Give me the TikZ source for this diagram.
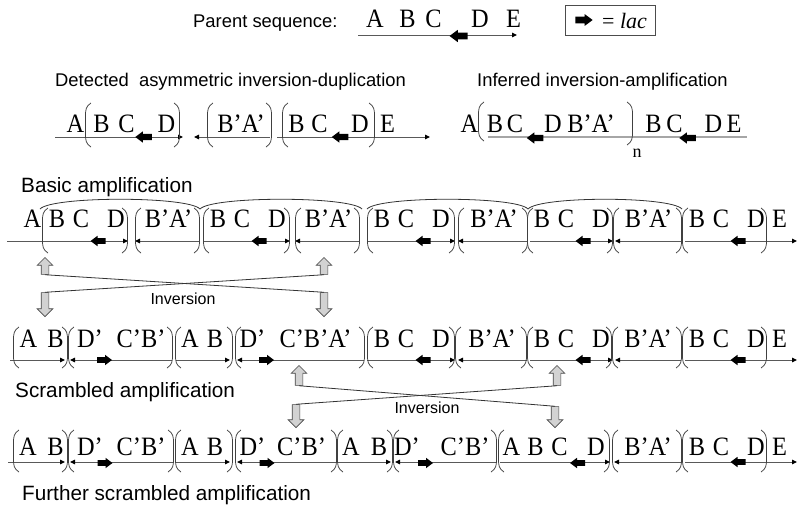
\documentclass[tikz,border=0pt]{standalone}
\usepackage{fontspec}
\usepackage{graphicx}
\setmainfont{Liberation Serif}
\setsansfont{Liberation Sans}
\usetikzlibrary{arrows.meta,shapes.arrows}

\newcounter{tk}
\def\RB{0}\def\RL{0}\def\BT{0}\def\BB{0}
\newcommand\lt[2]{\stepcounter{tk}\node[seqlet] (t\thetk) at ({#1},{\RB}) {\scalebox{0.92}[1]{#2}};}
\newcommand\lbr[1]{\draw[brk] ({#1+6},{\BT}) .. controls ({#1+1},{\BT+3}) and ({#1+0.5},{\BT+7}) .. ({#1+0.5},{\BT+12}) -- ({#1+0.5},{\BB-12}) .. controls ({#1+0.5},{\BB-7}) and ({#1+1},{\BB-3}) .. ({#1+6},{\BB});}
\newcommand\rbr[1]{\draw[brk] ({#1-6},{\BT}) .. controls ({#1-1},{\BT+3}) and ({#1-0.5},{\BT+7}) .. ({#1-0.5},{\BT+12}) -- ({#1-0.5},{\BB-12}) .. controls ({#1-0.5},{\BB-7}) and ({#1-1},{\BB-3}) .. ({#1-6},{\BB});}
\newcommand\lac[4]{\fill[black,shift={({#1},{#2})},xscale={#3*#4},yscale={#4}] (-7.5,0) -- (-0.5,5.2) -- (-0.5,2.9) -- (7.5,2.9) -- (7.5,-2.9) -- (-0.5,-2.9) -- (-0.5,-5.2) -- cycle;}
\newcommand\BCD[2]{\lbr{#1}\lt{#1+15}{B}\lt{#1+39}{C}\lac{#1+56}{\RL}{1}{1}\lt{#1+74}{D}\rbr{#2}}
\newcommand\BA[2]{\lbr{#1}\lt{(#1+#2)/2+1}{B’A’}\rbr{#2}}

\begin{document}
\begin{tikzpicture}[x=1pt,y=-1pt,
  seqlet/.style={font=\fontsize{26.5}{26.5}\selectfont, anchor=base, inner sep=0pt},
  lab/.style={font=\sffamily\fontsize{18.4}{20}\selectfont, inner sep=0pt, anchor=base west},
  rowlab/.style={font=\sffamily\fontsize{20.7}{22}\selectfont, inner sep=0pt, anchor=base west},
  invlab/.style={font=\sffamily\fontsize{16}{18}\selectfont, inner sep=0pt},
  brk/.style={draw=black!75, line width=0.75pt},
  seg/.style={draw=black!65, line width=1pt},
  fwd/.style={seg, -{Triangle[length=5pt,width=4.5pt,color=black]}},
  rev/.style={seg, {Triangle[length=5pt,width=4.5pt,color=black]}-},
  arcst/.style={draw=black!80, line width=0.8pt},
  garrow/.style={single arrow, draw=gray!55!black, fill=gray!35, line width=0.6pt,
    inner xsep=3.5pt, inner ysep=3.5pt, single arrow head extend=4pt, single arrow tip angle=90},
  xline/.style={draw=gray!40!black, line width=0.8pt}]
\useasboundingbox (0,0) rectangle (798,504);

% ---------- header
\node[lab] (ps) at (193,27) {Parent sequence:};
\def\RB{27}
\draw[fwd] (358,35) -- (517,35);
\lt{375}{A}\lt{407.5}{B}\lt{433.5}{C}\lt{480}{D}\lt{513.5}{E}
\lac{458.5}{36}{1}{1.2}
\node[draw=black!70, line width=0.6pt, minimum width=90pt, minimum height=30pt, anchor=north west, inner sep=0pt] (key) at (565,5) {};
\lac{584}{20}{-1}{1.15}
\node[anchor=base west, font=\fontsize{22}{22}\selectfont, inner sep=0pt] (keyt) at (602,28) {= \textit{lac}};

% ---------- row 2
\node[lab] (l2a) at (55,86) {Detected\ \ asymmetric inversion-duplication};
\node[lab] (l2b) at (477,86) {Inferred inversion-amplification};
\def\RB{132}\def\RL{137}\def\BT{103}\def\BB{147}
\draw[fwd] (55,137) -- (183,137);
\draw[rev] (194,137) -- (270,137);
\draw[fwd] (277,137) -- (430,137);
\lt{75.5}{A}\lbr{85}\lt{101.5}{B}\lt{126.5}{C}\lac{143.5}{137}{1}{1.1}\lt{166.5}{D}\rbr{180}
\lbr{207}\lt{241}{B’A’}\rbr{272}
\lbr{282}\lt{296.5}{B}\lt{319.5}{C}\lac{340}{137}{1}{1.1}\lt{360}{D}\rbr{375}\lt{387.5}{E}
% right
\draw[seg, draw=gray!70, line width=1.6pt] (488,137) -- (747,137);
\def\BT{102}\def\BB{141}
\lt{469.5}{A}\lbr{478}\lt{495}{B}\lt{515}{C}\lac{535}{138}{1}{1.1}\lt{553}{D}\lt{591}{B’A’}
\def\BB{145}\rbr{633}
\node[font=\fontsize{18}{18}\selectfont, anchor=base, inner sep=0pt] (nsub) at (637,157) {n};
\lt{653.5}{B}\lt{674.5}{C}\lac{687.5}{138}{1}{1.1}\lt{713.5}{D}\lt{734}{E}

% ---------- row 3
\node[rowlab] (l3) at (21,192) {Basic amplification};
\foreach \a/\b in {40/200,200/362,367/528,528/682}
  \draw[arcst] (\a,209) .. controls ({\a+12},196) and ({\b-12},196) .. (\b,209);
\def\RB{227}\def\RL{241}\def\BT{208}\def\BB{253}
\draw[fwd] (7,241) -- (128,241);
\draw[rev] (135,241) -- (200,241);
\draw[fwd] (203,241) -- (290,241);
\draw[rev] (295,241) -- (360,241);
\draw[fwd] (367,241) -- (455,241);
\draw[rev] (458,241) -- (527,241);
\draw[fwd] (530,241) -- (613,241);
\draw[rev] (615,241) -- (681,241);
\draw[fwd] (685,241) -- (797,241);
\lt{32.5}{A}\BCD{42}{128}\BA{135}{200}\BCD{203}{290}\BA{295}{360}\BCD{367}{455}\BA{458}{528}\BCD{527}{613}\BA{613}{682}\BCD{682}{767}\lt{779.5}{E}

% ---------- inversion 1
\node[garrow, shape border rotate=90, minimum height=17pt, anchor=tip] (u1) at (45,257) {};
\node[garrow, shape border rotate=90, minimum height=17pt, anchor=tip] (u2) at (324,257) {};
\node[garrow, shape border rotate=270, minimum height=24pt, anchor=tip] (d1) at (45,317) {};
\node[garrow, shape border rotate=270, minimum height=24pt, anchor=tip] (d2) at (324,317) {};
\draw[xline] (u1.tail) -- (d2.tail);
\draw[xline] (u2.tail) -- (d1.tail);
\node[invlab] (inv1) at (183,299) {Inversion};

% ---------- row 4
\def\RB{347}\def\RL{360}\def\BT{327}\def\BB{368}
\draw[fwd] (10,360) -- (65,360);
\draw[rev] (70,360) -- (172,360);
\draw[fwd] (176,360) -- (230,360);
\draw[rev] (237,360) -- (364,360);
\draw[fwd] (367,360) -- (455,360);
\draw[rev] (458,360) -- (527,360);
\draw[fwd] (530,360) -- (613,360);
\draw[rev] (615,360) -- (681,360);
\draw[fwd] (685,360) -- (797,360);
\lbr{13}\lt{28.5}{A}\lt{55.5}{B}\rbr{68}
\lbr{68}\lt{90}{D’}\lac{104.5}{360}{-1}{1}\lt{141}{C’B’}\rbr{173}
\lbr{175}\lt{190}{A}\lt{215}{B}\rbr{233}
\lbr{235}\lt{252.5}{D’}\lac{266.5}{360}{-1}{1}\lt{315.5}{C’B’A’}\rbr{365}
\BCD{367}{455}\BA{455}{527}\BCD{527}{612}\BA{612}{682}\BCD{682}{767}\lt{779.5}{E}
\node[rowlab] (l4) at (15,397) {Scrambled amplification};

% ---------- inversion 2
\node[garrow, shape border rotate=90, minimum height=20pt, anchor=tip] (u3) at (299,365) {};
\node[garrow, shape border rotate=90, minimum height=20pt, anchor=tip] (u4) at (557,365) {};
\node[garrow, shape border rotate=270, minimum height=23pt, anchor=tip] (d3) at (296,428) {};
\node[garrow, shape border rotate=270, minimum height=21pt, anchor=tip] (d4) at (555,428) {};
\draw[xline] (u3.tail) -- (d4.tail);
\draw[xline] (u4.tail) -- (d3.tail);
\node[invlab] (inv2) at (427,408) {Inversion};

% ---------- row 5
\def\RB{455}\def\RL{462}\def\BT{430}\def\BB{472}
\draw[fwd] (8,462) -- (65,462);
\draw[rev] (70,462) -- (173,462);
\draw[fwd] (176,462) -- (230,462);
\draw[rev] (237,462) -- (336,462);
\draw[fwd] (338,462) -- (391,462);
\draw[rev] (395,462) -- (496,462);
\draw[fwd] (500,462) -- (610,462);
\draw[rev] (614,462) -- (681,462);
\draw[fwd] (685,462) -- (797,462);
\lbr{13}\lt{28}{A}\lt{55.5}{B}\rbr{68}
\lbr{68}\lt{90}{D’}\lac{105}{463}{-1}{1}\lt{141}{C’B’}\rbr{174}
\lbr{175}\lt{190}{A}\lt{215}{B}\rbr{233}
\lbr{235}\lt{252.5}{D’}\lac{267}{463}{-1}{1}\lt{301.5}{C’B’}\rbr{337}
\lbr{337}\lt{351}{A}\lt{379}{B}\rbr{393}
\lbr{393}\lt{407}{D’}\lac{425.5}{463}{-1}{1}\lt{465}{C’B’}\rbr{497}
\lbr{498}\lt{511.5}{A}\lt{535.5}{B}\lt{559.5}{C}\lac{577.5}{463}{1}{1}\lt{596}{D}\rbr{610}
\BA{612}{682}\BCD{682}{767}\lt{779.5}{E}
\node[rowlab] (l5) at (22,500) {Further scrambled amplification};
\end{tikzpicture}
\end{document}
